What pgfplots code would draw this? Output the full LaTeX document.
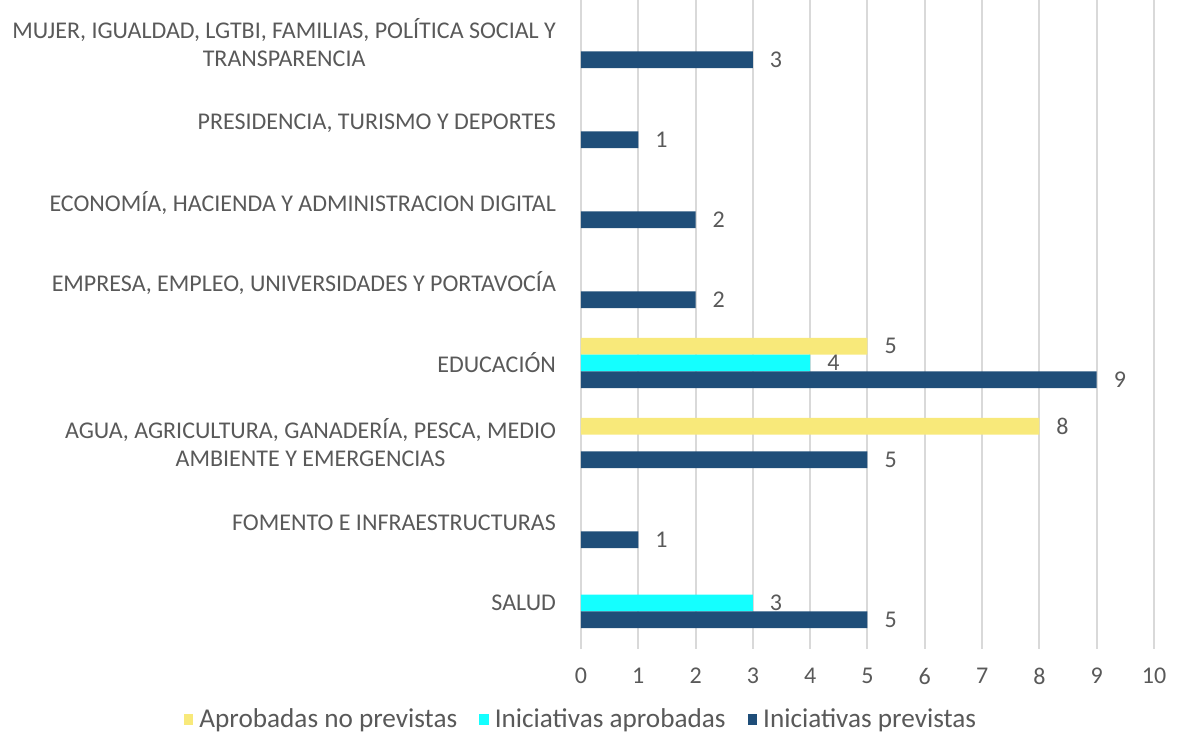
\documentclass[border=0pt]{standalone}
\usepackage{pgfplots}
\pgfplotsset{compat=1.18}
\usepackage{fontspec}
\setmainfont{Carlito}
\definecolor{txt}{HTML}{595959}
\definecolor{gridc}{HTML}{D9D9D9}
\definecolor{yel}{HTML}{F8E97A}
\definecolor{cya}{HTML}{14FFFF}
\definecolor{dbl}{HTML}{1F4E79}
\begin{document}
\begin{tikzpicture}
\path[use as bounding box] (-290.5pt,-47pt) rectangle (301pt,321.5pt);
\begin{axis}[
  at={(0,0)}, anchor=south west,
  scale only axis, width=286.5pt, height=320pt,
  xbar, bar width=8.4pt,
  xmin=0, xmax=10, ymin=-0.5, ymax=7.5,
  xtick={0,...,10},
  ytick={0,...,7},
  yticklabels={SALUD, FOMENTO E INFRAESTRUCTURAS, {AGUA, AGRICULTURA, GANADERÍA, PESCA, MEDIO\\AMBIENTE Y EMERGENCIAS}, EDUCACIÓN, {EMPRESA, EMPLEO, UNIVERSIDADES Y PORTAVOCÍA}, {ECONOMÍA, HACIENDA Y ADMINISTRACION DIGITAL}, {PRESIDENCIA, TURISMO Y DEPORTES}, {MUJER, IGUALDAD, LGTBI, FAMILIAS, POLÍTICA SOCIAL Y\\TRANSPARENCIA}},
  yticklabel style={align=center, font=\fontsize{12}{14}\selectfont, text=txt, xshift=-6pt},
  xticklabel style={font=\fontsize{12}{14}\selectfont, text=txt, yshift=-6pt},
  /pgf/number format/assume math mode=true,
  axis line style={draw=none},
  xmajorgrids, grid style={gridc, line width=1pt},
  major x tick style={gridc, line width=1pt}, tick align=outside, major tick length=3pt,
  ytick style={draw=none},
  nodes near coords,
  nodes near coords style={font=\fontsize{12}{14}\selectfont, text=txt, anchor=west, xshift=5pt},
  legend style={at={(0.0017,-0.1203)}, anchor=center, draw=none, legend columns=3,
    font=\fontsize{13.6}{16}\selectfont, text=txt,
    /tikz/every odd column/.append style={column sep=1pt},
    /tikz/every even column/.append style={column sep=9pt}},
  legend image code/.code={\fill[#1] (0pt,-2.4pt) rectangle (4.8pt,3.2pt);},
]
\addplot[fill=yel, draw=none, bar shift=8.4pt] coordinates {(8,2) (5,3)};
\addlegendentry{Aprobadas no previstas}
\addplot[fill=cya, draw=none, bar shift=0pt] coordinates {(3,0) (4,3)};
\addlegendentry{Iniciativas aprobadas}
\addplot[fill=dbl, draw=none, bar shift=-8.4pt] coordinates {(5,0) (1,1) (5,2) (9,3) (2,4) (2,5) (1,6) (3,7)};
\addlegendentry{Iniciativas previstas}
\end{axis}
\end{tikzpicture}
\end{document}
